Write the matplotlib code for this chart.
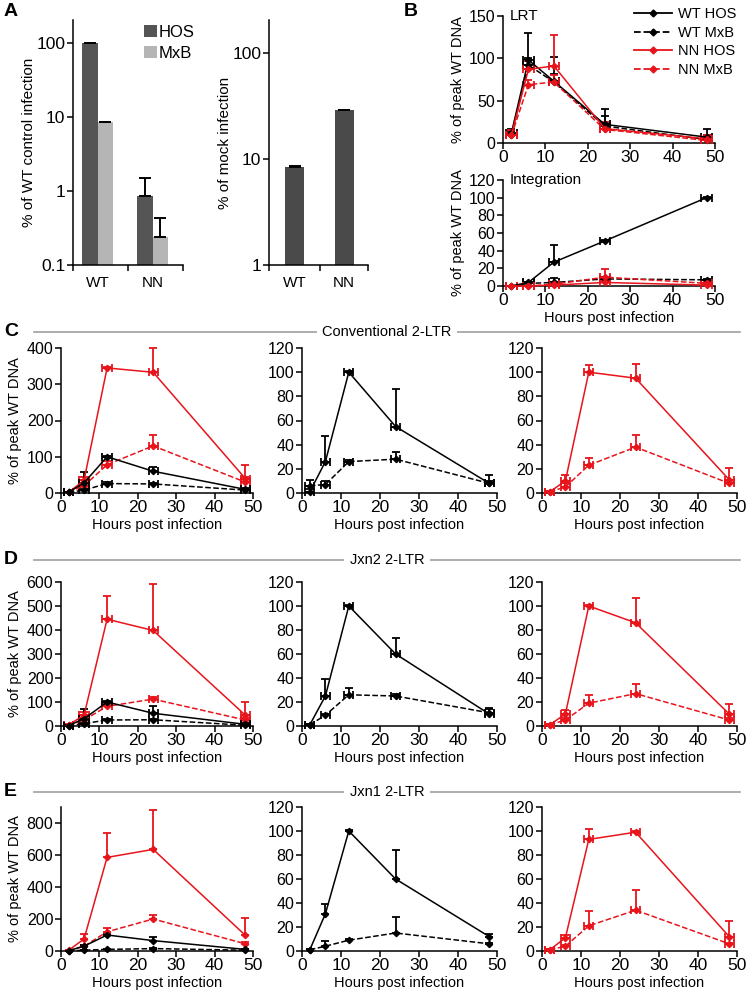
import matplotlib
matplotlib.use('Agg')
import matplotlib.pyplot as plt
import numpy as np
from matplotlib.lines import Line2D
from matplotlib.ticker import FixedLocator, NullLocator, FuncFormatter

plt.rcParams['font.family'] = ['Liberation Sans', 'DejaVu Sans']
plt.rcParams['font.size'] = 10

# ---------------- data ----------------
# Panel A
a_cats = ['WT', 'NN']
a_hos = [100, 0.85]
a_hos_sd = [0.5, 0.65]
a_mxb = [8.5, 0.24]
a_mxb_sd = [0.05, 0.19]
a_mock = [8.5, 29]
a_mock_sd = [0.05, 0.2]

hours = [2, 6, 12, 24, 48]

# Panel B - LRT
lrt_wt_hos = [12, 98, 73, 22, 7]; lrt_wt_hos_sd = [5, 32, 29, 18, 9]
lrt_wt_mxb = [10, 92, 72, 20, 4]; lrt_wt_mxb_sd = [4, 8, 10, 12, 6]
lrt_nn_hos = [10, 87, 91, 17, 5]; lrt_nn_hos_sd = [5, 10, 37, 8, 5]
lrt_nn_mxb = [9, 69, 72, 16, 3]; lrt_nn_mxb_sd = [3, 6, 8, 5, 3]
# Panel B - Integration
int_wt_hos = [0, 4, 27, 51, 100]; int_wt_hos_sd = [0.5, 1, 19, 1, 1]
int_wt_mxb = [0, 3, 4, 8, 7]; int_wt_mxb_sd = [0.5, 1, 5, 2, 1]
int_nn_hos = [0, 0, 1, 4, 1]; int_nn_hos_sd = [0.5, 0.5, 1, 2, 1]
int_nn_mxb = [0, 0, 2, 10, 3]; int_nn_mxb_sd = [0.5, 0.5, 1, 9, 1]

# Panel C - Conventional 2-LTR
c_all_nn_hos = [2, 35, 345, 333, 40]; c_all_nn_hos_sd = [1, 10, 3, 67, 37]
c_all_nn_mxb = [2, 20, 78, 130, 30]; c_all_nn_mxb_sd = [1, 8, 10, 31, 15]
c_all_wt_hos = [2, 28, 100, 60, 10]; c_all_wt_hos_sd = [1, 29, 3, 12, 5]
c_all_wt_mxb = [2, 8, 26, 25, 8]; c_all_wt_mxb_sd = [1, 3, 3, 3, 3]
c_wt_hos = [1, 26, 100, 55, 8]; c_wt_hos_sd = [2, 21, 1, 31, 7]
c_wt_mxb = [6, 7, 26, 28, 8]; c_wt_mxb_sd = [5, 3, 1, 6, 2]
c_nn_hos = [1, 10, 100, 95, 11]; c_nn_hos_sd = [1, 5, 6, 12, 10]
c_nn_mxb = [1, 5, 23, 38, 8]; c_nn_mxb_sd = [1, 3, 6, 10, 3]

# Panel D - Jxn2 2-LTR
d_all_nn_hos = [5, 45, 445, 398, 45]; d_all_nn_hos_sd = [2, 15, 98, 195, 55]
d_all_nn_mxb = [4, 25, 82, 112, 25]; d_all_nn_mxb_sd = [2, 10, 10, 10, 10]
d_all_wt_hos = [2, 30, 100, 53, 7]; d_all_wt_hos_sd = [1, 40, 5, 30, 5]
d_all_wt_mxb = [1, 10, 25, 26, 3]; d_all_wt_mxb_sd = [1, 3, 3, 3, 2]
d_wt_hos = [1, 25, 100, 60, 10]; d_wt_hos_sd = [1, 14, 1, 13, 5]
d_wt_mxb = [1, 9, 26, 25, 11]; d_wt_mxb_sd = [1, 1, 6, 2, 3]
d_nn_hos = [1, 10, 100, 86, 10]; d_nn_hos_sd = [1, 3, 1, 21, 8]
d_nn_mxb = [1, 5, 19, 27, 5]; d_nn_mxb_sd = [1, 2, 7, 8, 2]

# Panel E - Jxn1 2-LTR
e_all_nn_hos = [5, 75, 585, 635, 98]; e_all_nn_hos_sd = [2, 30, 155, 245, 107]
e_all_nn_mxb = [3, 30, 120, 200, 45]; e_all_nn_mxb_sd = [2, 10, 25, 25, 13]
e_all_wt_hos = [2, 30, 100, 65, 10]; e_all_wt_hos_sd = [1, 8, 5, 20, 5]
e_all_wt_mxb = [1, 5, 10, 15, 5]; e_all_wt_mxb_sd = [1, 2, 2, 3, 2]
e_wt_hos = [1, 31, 100, 60, 12]; e_wt_hos_sd = [1, 8, 1, 24, 2]
e_wt_mxb = [1, 4, 9, 15, 6]; e_wt_mxb_sd = [1, 4, 1, 13, 1]
e_nn_hos = [1, 11, 93, 99, 12]; e_nn_hos_sd = [1, 2, 9, 1, 13]
e_nn_mxb = [1, 4, 21, 34, 6]; e_nn_mxb_sd = [1, 1, 12, 17, 1]

# ---------------- layout ----------------
W, H = 746, 992
fig = plt.figure(figsize=(W / 100, H / 100), dpi=100)
RED = '#e8141b'
BLK = '#000000'
LW = 1.1
XT = 12.5   # x tick label size
YT = 11.5   # y tick label size

def add_ax(l, t, r, b):
    return fig.add_axes([l / W, 1 - b / H, (r - l) / W, (b - t) / H])

def style(ax, xs=XT, ys=YT):
    for s in ['top', 'right']:
        ax.spines[s].set_visible(False)
    for s in ['left', 'bottom']:
        ax.spines[s].set_linewidth(1.1)
    ax.tick_params(direction='out', length=4, width=1.1, pad=1.5)
    ax.tick_params(axis='x', labelsize=xs, pad=1)
    ax.tick_params(axis='y', labelsize=ys)

def series(ax, y, sd, color, ls, xerr=True):
    n = len(y)
    ax.errorbar(hours, y, yerr=[np.zeros(n), sd], xerr=(1.2 if xerr else None),
                color=color, ls=ls, lw=LW, marker='D', ms=3.2, mec=color, mfc=color,
                elinewidth=1.3, capsize=3, capthick=1.3, clip_on=False, zorder=3)

def time_ax(ax, ymax, yticks, xlabel=True, ylabel=True):
    style(ax)
    ax.set_xlim(0, 50)
    ax.set_ylim(0, ymax)
    ax.set_xticks([0, 10, 20, 30, 40, 50])
    ax.set_yticks(yticks)
    if xlabel:
        ax.set_xlabel('Hours post infection', fontsize=10.5, labelpad=2)
    if ylabel:
        ax.set_ylabel('% of peak WT DNA', fontsize=10.5, labelpad=3)

# ---- Panel A left ----
axA = add_ax(73, 20, 183, 265)
style(axA, xs=10.5, ys=12.5)
axA.set_yscale('log')
axA.set_ylim(0.1, 205)
axA.set_xlim(0, 2)
pos = np.arange(len(a_cats)) + 0.45
bw = 0.28
axA.bar(pos - bw / 2, a_hos, bw, color='#555555', yerr=[np.zeros(2), a_hos_sd],
        error_kw=dict(elinewidth=1.4, capsize=4, capthick=1.4, ecolor='black'), label='HOS')
axA.bar(pos + bw / 2, a_mxb, bw, color='#b5b5b5', yerr=[np.zeros(2), a_mxb_sd],
        error_kw=dict(elinewidth=1.4, capsize=4, capthick=1.4, ecolor='black'), label='MxB')
axA.yaxis.set_major_locator(FixedLocator([0.1, 1, 10, 100]))
axA.yaxis.set_minor_locator(NullLocator())
axA.yaxis.set_major_formatter(FuncFormatter(lambda v, p: '%g' % v))
axA.set_xticks([0, 1, 2])
axA.set_xticklabels([])
axA.set_xticks(pos, minor=True)
axA.set_xticklabels(a_cats, minor=True)
axA.tick_params(axis='x', which='minor', length=0, pad=8, labelsize=11)
axA.set_ylabel('% of WT control infection', fontsize=11, labelpad=0)
axA.legend(loc='upper left', bbox_to_anchor=(0.6, 1.0), frameon=False, fontsize=12,
           handlelength=0.75, handleheight=0.75, handletextpad=0.15, labelspacing=0.35,
           borderpad=0, borderaxespad=0.3)

# ---- Panel A right ----
axA2 = add_ax(269, 20, 368, 265)
style(axA2, xs=10.5, ys=12.5)
axA2.set_yscale('log')
axA2.set_ylim(1, 205)
axA2.set_xlim(0, 2)
pos2 = np.arange(len(a_cats)) + 0.52
axA2.bar(pos2, a_mock, 0.38, color='#4a4a4a', yerr=[np.zeros(2), a_mock_sd],
         error_kw=dict(elinewidth=1.4, capsize=4, capthick=1.4, ecolor='black'))
axA2.yaxis.set_major_locator(FixedLocator([1, 10, 100]))
axA2.yaxis.set_minor_locator(NullLocator())
axA2.yaxis.set_major_formatter(FuncFormatter(lambda v, p: '%g' % v))
axA2.set_xticks([0, 1.03, 2])
axA2.set_xticklabels([])
axA2.set_xticks(pos2, minor=True)
axA2.set_xticklabels(a_cats, minor=True)
axA2.tick_params(axis='x', which='minor', length=0, pad=8, labelsize=11)
axA2.set_ylabel('% of mock infection', fontsize=11, labelpad=0)

# ---- Panel B ----
axB1 = add_ax(503, 16, 715, 143)
time_ax(axB1, 150, [0, 50, 100, 150], xlabel=False)
series(axB1, lrt_wt_hos, lrt_wt_hos_sd, BLK, '-')
series(axB1, lrt_wt_mxb, lrt_wt_mxb_sd, BLK, '--')
series(axB1, lrt_nn_hos, lrt_nn_hos_sd, RED, '-')
series(axB1, lrt_nn_mxb, lrt_nn_mxb_sd, RED, '--')
axB1.text(0.03, 1.0, 'LRT', transform=axB1.transAxes, fontsize=11, va='center', ha='left')
handles = [Line2D([], [], color=BLK, ls='-', lw=1.3, marker='D', ms=3.5),
           Line2D([], [], color=BLK, ls='--', lw=1.3, marker='D', ms=3.5),
           Line2D([], [], color=RED, ls='-', lw=1.3, marker='D', ms=3.5),
           Line2D([], [], color=RED, ls='--', lw=1.3, marker='D', ms=3.5)]
fig.legend(handles, ['WT HOS', 'WT MxB', 'NN HOS', 'NN MxB'], loc='upper left',
           bbox_to_anchor=(634 / W, 1 - 7 / H), frameon=False, fontsize=10.5,
           handlelength=2.6, handletextpad=0.4, labelspacing=0.32, borderpad=0, borderaxespad=0)

axB2 = add_ax(503, 180, 715, 286)
time_ax(axB2, 120, [0, 20, 40, 60, 80, 100, 120])
series(axB2, int_wt_hos, int_wt_hos_sd, BLK, '-')
series(axB2, int_wt_mxb, int_wt_mxb_sd, BLK, '--')
series(axB2, int_nn_hos, int_nn_hos_sd, RED, '-')
series(axB2, int_nn_mxb, int_nn_mxb_sd, RED, '--')
axB2.text(0.03, 1.0, 'Integration', transform=axB2.transAxes, fontsize=11, va='center', ha='left')

# ---- Rows C, D, E ----
rows = [
    dict(top=348, bottom=493, line=332, title='Conventional 2-LTR', letter='C', ymax=400,
         yticks=[0, 100, 200, 300, 400], xerr=(True, True, True),
         all=[(c_all_nn_hos, c_all_nn_hos_sd, RED, '-'), (c_all_nn_mxb, c_all_nn_mxb_sd, RED, '--'),
              (c_all_wt_hos, c_all_wt_hos_sd, BLK, '-'), (c_all_wt_mxb, c_all_wt_mxb_sd, BLK, '--')],
         wt=[(c_wt_hos, c_wt_hos_sd, BLK, '-'), (c_wt_mxb, c_wt_mxb_sd, BLK, '--')],
         nn=[(c_nn_hos, c_nn_hos_sd, RED, '-'), (c_nn_mxb, c_nn_mxb_sd, RED, '--')]),
    dict(top=582, bottom=726, line=560, title='Jxn2 2-LTR', letter='D', ymax=600,
         yticks=[0, 100, 200, 300, 400, 500, 600], xerr=(True, True, True),
         all=[(d_all_nn_hos, d_all_nn_hos_sd, RED, '-'), (d_all_nn_mxb, d_all_nn_mxb_sd, RED, '--'),
              (d_all_wt_hos, d_all_wt_hos_sd, BLK, '-'), (d_all_wt_mxb, d_all_wt_mxb_sd, BLK, '--')],
         wt=[(d_wt_hos, d_wt_hos_sd, BLK, '-'), (d_wt_mxb, d_wt_mxb_sd, BLK, '--')],
         nn=[(d_nn_hos, d_nn_hos_sd, RED, '-'), (d_nn_mxb, d_nn_mxb_sd, RED, '--')]),
    dict(top=807, bottom=951, line=792, title='Jxn1 2-LTR', letter='E', ymax=900,
         yticks=[0, 200, 400, 600, 800], xerr=(False, False, True),
         all=[(e_all_nn_hos, e_all_nn_hos_sd, RED, '-'), (e_all_nn_mxb, e_all_nn_mxb_sd, RED, '--'),
              (e_all_wt_hos, e_all_wt_hos_sd, BLK, '-'), (e_all_wt_mxb, e_all_wt_mxb_sd, BLK, '--')],
         wt=[(e_wt_hos, e_wt_hos_sd, BLK, '-'), (e_wt_mxb, e_wt_mxb_sd, BLK, '--')],
         nn=[(e_nn_hos, e_nn_hos_sd, RED, '-'), (e_nn_mxb, e_nn_mxb_sd, RED, '--')]),
]

for r in rows:
    t, b = r['top'], r['bottom']
    ax1 = add_ax(61, t, 253, b)
    time_ax(ax1, r['ymax'], r['yticks'])
    for y, sd, c, ls in r['all']:
        series(ax1, y, sd, c, ls, xerr=r['xerr'][0])
    ax2 = add_ax(302, t, 497, b)
    time_ax(ax2, 120, [0, 20, 40, 60, 80, 100, 120], ylabel=False)
    for y, sd, c, ls in r['wt']:
        series(ax2, y, sd, c, ls, xerr=r['xerr'][1])
    ax3 = add_ax(542, t, 737, b)
    time_ax(ax3, 120, [0, 20, 40, 60, 80, 100, 120], ylabel=False)
    for y, sd, c, ls in r['nn']:
        series(ax3, y, sd, c, ls, xerr=r['xerr'][2])
    yl = 1 - r['line'] / H
    fig.add_artist(Line2D([34 / W, 740 / W], [yl, yl], color='#a0a0a0', lw=1.2))
    fig.text(387 / W, yl, r['title'], ha='center', va='center', fontsize=10.5,
             bbox=dict(fc='white', ec='none', pad=4))
    fig.text(4 / W, yl, r['letter'], ha='left', va='center', fontsize=14, fontweight='bold')

fig.text(4 / W, 1 - 12 / H, 'A', ha='left', va='center', fontsize=14, fontweight='bold')
fig.text(404 / W, 1 - 12 / H, 'B', ha='left', va='center', fontsize=14, fontweight='bold')

fig.savefig('out.png', dpi=100)
